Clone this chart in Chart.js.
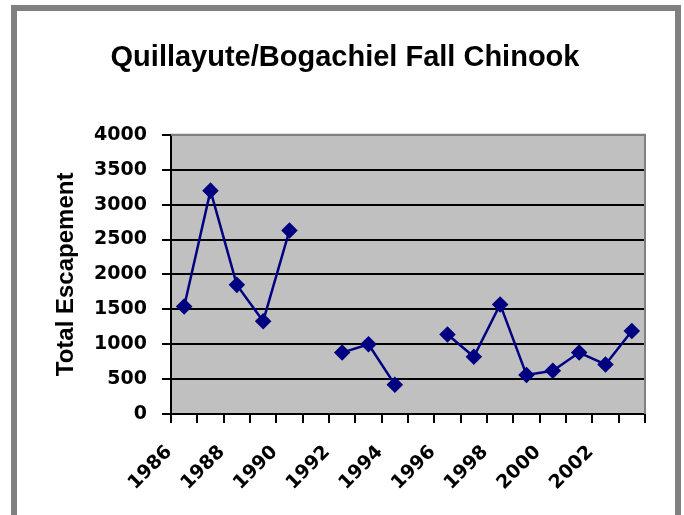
<!DOCTYPE html>
<html>
<head>
<meta charset="utf-8">
<script src="https://cdn.jsdelivr.net/npm/chart.js@4/dist/chart.umd.min.js"></script>
<style>
  html, body { margin: 0; padding: 0; background: #fff; overflow: hidden; }
  #wrap { position: relative; width: 684px; height: 515px; }
  #frame { position: absolute; left: 11px; top: 5px; width: 658px; height: 600px;
           border: 6px solid #808080; }
  #c { position: absolute; left: 0; top: 0; }
</style>
</head>
<body>
<div id="wrap">
  <div id="frame"></div>
  <canvas id="c" width="684" height="515"></canvas>
</div>
<script>
// ---------- data ----------
const years = ['1986','1987','1988','1989','1990','1991','1992','1993','1994',
               '1995','1996','1997','1998','1999','2000','2001','2002','2003'];
const escapement = [1540, 3200, 1850, 1330, 2630, null, 880, 1000, 420,
                    null, 1140, 820, 1570, 560, 620, 880, 710, 1190];
const yTicks = [0, 500, 1000, 1500, 2000, 2500, 3000, 3500, 4000];

// grey plot background + right/top frame
const plotBg = {
  id: 'plotBg',
  beforeDraw(chart) {
    const { ctx, chartArea: a } = chart;
    ctx.save();
    ctx.fillStyle = '#C0C0C0';
    ctx.fillRect(a.left, a.top, a.right - a.left, a.bottom - a.top);
    ctx.restore();
  },
  afterDatasetsDraw(chart) {
    const { ctx, chartArea: a } = chart;
    ctx.save();
    ctx.strokeStyle = '#808080';
    ctx.lineWidth = 2;
    ctx.beginPath();
    ctx.moveTo(a.left, a.top);
    ctx.lineTo(a.right, a.top);
    ctx.lineTo(a.right, a.bottom);
    ctx.stroke();
    ctx.restore();
  }
};

const tickFont = { family: 'DejaVu Sans', weight: 'bold', size: 19 };

new Chart(document.getElementById('c'), {
  type: 'line',
  data: {
    labels: years,
    datasets: [{
      data: escapement,
      borderColor: '#000080',
      backgroundColor: '#000080',
      borderWidth: 2.5,
      pointStyle: 'rectRot',
      pointRadius: 6.5,
      pointHoverRadius: 6.5,
      spanGaps: false,
      tension: 0
    }]
  },
  options: {
    responsive: false,
    animation: false,
    layout: { padding: { left: 45, right: 39, top: 0, bottom: 0 } },
    plugins: {
      legend: { display: false },
      tooltip: { enabled: false },
      title: {
        display: true,
        text: 'Quillayute/Bogachiel Fall Chinook',
        color: '#000',
        font: { family: 'Liberation Sans', weight: 'bold', size: 29 },
        padding: { top: 41, bottom: 59 }
      }
    },
    scales: {
      x: {
        offset: true,
        grid: { display: true, drawOnChartArea: false, offset: true,
                tickLength: 9, tickColor: '#000', lineWidth: 2 },
        border: { color: '#000', width: 2 },
        ticks: {
          color: '#000', font: tickFont, autoSkip: false,
          minRotation: 45, maxRotation: 45, padding: 18, labelOffset: -15,
          callback: (v, i) => (i % 2 === 0 ? years[i] : '')
        },
        afterFit: s => { s.height = 101; }
      },
      y: {
        min: 0, max: 4000,
        afterBuildTicks: s => { s.ticks = yTicks.map(v => ({ value: v })); },
        grid: {
          color: c => (c.tick && c.tick.value === 4000 ? '#808080' : '#000'),
          lineWidth: 2, tickLength: 9, tickColor: '#000'
        },
        border: { color: '#000', width: 2 },
        ticks: { color: '#000', font: tickFont, padding: 15,
                 callback: v => String(v) },
        title: {
          display: true, text: 'Total Escapement', color: '#000',
          font: { family: 'Liberation Sans', weight: 'bold', size: 24 },
          padding: { top: 7, bottom: 0 }
        },
        afterFit: s => { s.width = 126; }
      }
    }
  },
  plugins: [plotBg]
});
</script>
</body>
</html>
